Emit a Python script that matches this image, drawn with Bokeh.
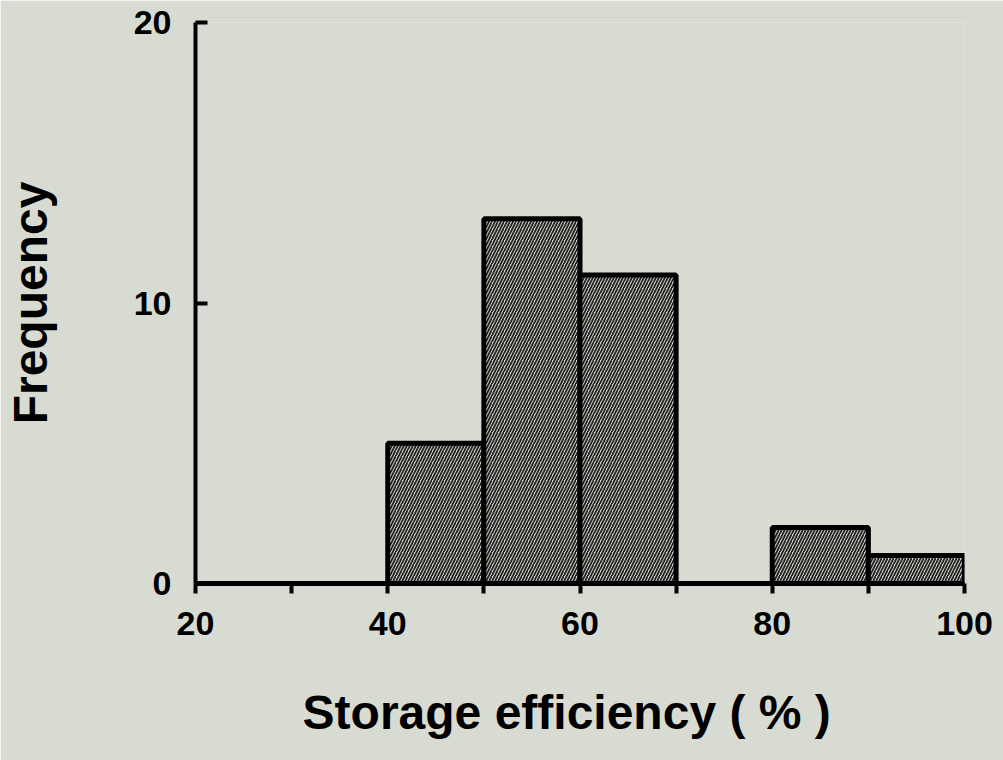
from bokeh.plotting import figure
from bokeh.models import FixedTicker, Range1d
from bokeh.embed import file_html
from bokeh.resources import INLINE

# Histogram data
bin_left = [40, 50, 60, 80, 90]
bin_right = [50, 60, 70, 90, 100]
counts = [5, 13, 11, 2, 1]

x_ticks = [20, 40, 60, 80, 100]
x_minor = [30, 50, 70, 90]
y_ticks = [0, 10, 20]

BG = "#d8dbd1"
FONT = "Liberation Sans"

p = figure(width=1003, height=760, output_backend="svg", toolbar_location=None,
           x_range=Range1d(20, 100), y_range=Range1d(0, 20),
           min_border_left=195, min_border_right=39, min_border_top=22, min_border_bottom=177)
p.background_fill_color = BG
p.border_fill_color = BG
p.outline_line_color = None
p.grid.visible = False

p.quad(left=bin_left, right=bin_right, bottom=0, top=counts,
       fill_color="#d8dad1", line_color="black", line_width=5,
       hatch_pattern="/", hatch_color="#222222", hatch_scale=6, hatch_weight=1.8)

xa = p.xaxis[0]
xa.ticker = FixedTicker(ticks=x_ticks, minor_ticks=x_minor)
xa.axis_line_width = 5
xa.major_tick_line_width = 4
xa.minor_tick_line_width = 4
xa.major_tick_out = 10
xa.major_tick_in = 0
xa.minor_tick_out = 10
xa.minor_tick_in = 0
xa.major_label_standoff = 18
xa.major_label_text_font = FONT
xa.major_label_text_font_style = "bold"
xa.major_label_text_font_size = "34px"
xa.major_label_text_color = "black"
xa.axis_label = "Storage  efficiency  ( % )"
xa.axis_label_text_font = FONT
xa.axis_label_text_font_style = "bold"
xa.axis_label_text_font_size = "48px"
xa.axis_label_text_color = "black"
xa.axis_label_standoff = 48

ya = p.yaxis[0]
ya.ticker = FixedTicker(ticks=y_ticks, minor_ticks=[])
ya.axis_line_width = 4
ya.major_tick_line_width = 4
ya.major_tick_in = 12
ya.major_tick_out = 0
ya.minor_tick_in = 0
ya.minor_tick_out = 0
ya.major_label_standoff = 24
ya.major_label_text_font = FONT
ya.major_label_text_font_style = "bold"
ya.major_label_text_font_size = "34px"
ya.major_label_text_color = "black"
ya.axis_label = "Frequency"
ya.axis_label_text_font = FONT
ya.axis_label_text_font_style = "bold"
ya.axis_label_text_font_size = "48px"
ya.axis_label_text_color = "black"
ya.axis_label_standoff = 74

open("out.html", "w").write(file_html(p, INLINE))
